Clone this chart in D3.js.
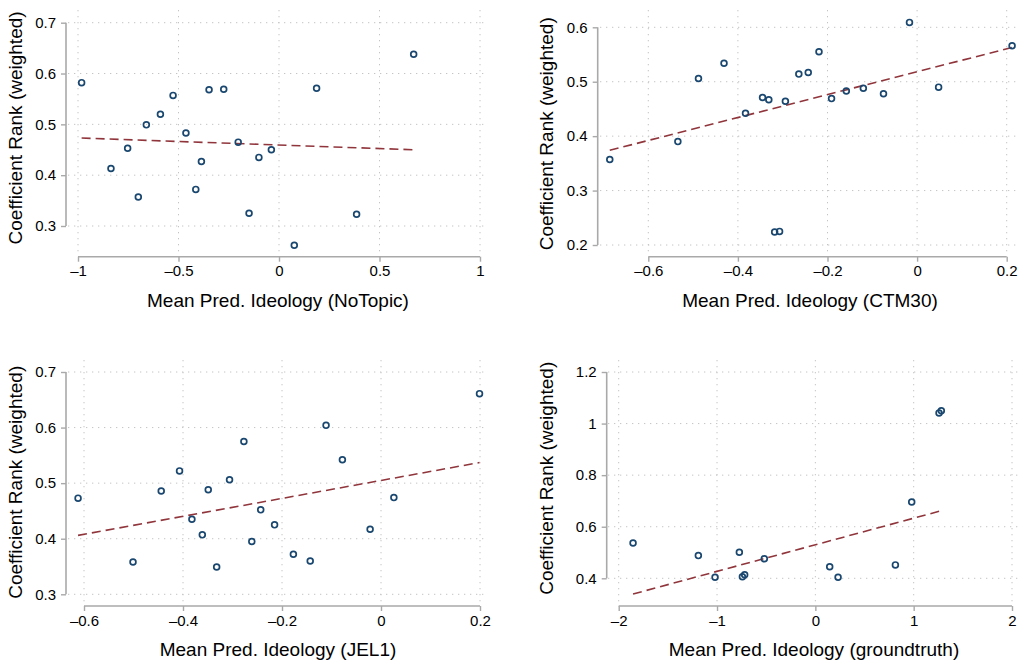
<!DOCTYPE html>
<html lang="en">
<head>
    <meta charset="UTF-8">
    <title>Coefficient Rank vs Mean Pred. Ideology</title>
    <script src="https://cdn.jsdelivr.net/npm/d3@7.8.5/dist/d3.min.js"></script>
    <style>
        body { margin: 0; background: #fff; }
        text { font-family: "Liberation Sans", Arial, Helvetica, sans-serif; fill: #000; }
    </style>
</head>
<body>
<div id="chart"></div>
<script type="text/javascript">
    // x = mean predicted ideology, y = coefficient rank (weighted)
    const noTopicX = [-0.982, -0.836, -0.753, -0.700, -0.660, -0.590, -0.527, -0.463, -0.414, -0.386,
        -0.348, -0.275, -0.203, -0.149, -0.100, -0.038, 0.076, 0.187, 0.386, 0.670];
    const noTopicY = [0.582, 0.413, 0.453, 0.357, 0.499, 0.520, 0.557, 0.483, 0.372, 0.427,
        0.568, 0.569, 0.465, 0.325, 0.435, 0.450, 0.262, 0.571, 0.323, 0.638];
    const noTopicFit = [[-0.982, 0.473], [0.670, 0.450]];

    const ctmX = [-0.686, -0.534, -0.488, -0.431, -0.383, -0.345, -0.331, -0.318, -0.307, -0.294,
        -0.264, -0.243, -0.219, -0.191, -0.158, -0.120, -0.075, -0.017, 0.048, 0.212];
    const ctmY = [0.357, 0.390, 0.506, 0.534, 0.442, 0.471, 0.467, 0.224, 0.225, 0.464,
        0.514, 0.517, 0.555, 0.469, 0.483, 0.488, 0.478, 0.609, 0.490, 0.566];
    const ctmFit = [[-0.686, 0.374], [0.212, 0.563]];

    const jelX = [-0.612, -0.501, -0.444, -0.407, -0.382, -0.361, -0.349, -0.332, -0.306, -0.277,
        -0.261, -0.243, -0.215, -0.177, -0.143, -0.111, -0.078, -0.022, 0.026, 0.199];
    const jelY = [0.473, 0.358, 0.486, 0.522, 0.435, 0.407, 0.488, 0.349, 0.506, 0.575,
        0.395, 0.452, 0.425, 0.372, 0.360, 0.604, 0.542, 0.417, 0.474, 0.661];
    const jelFit = [[-0.612, 0.406], [0.199, 0.537]];

    const gtX = [-1.854, -1.190, -1.020, -0.773, -0.742, -0.719, -0.519, 0.146, 0.231, 0.814, 0.980, 1.258, 1.281];
    const gtY = [0.537, 0.488, 0.404, 0.501, 0.406, 0.414, 0.476, 0.445, 0.404, 0.452, 0.696, 1.041, 1.050];
    const gtFit = [[-1.854, 0.339], [1.281, 0.662]];

    const xTicks1 = [-1, -0.5, 0, 0.5, 1];
    const yTicks1 = [0.3, 0.4, 0.5, 0.6, 0.7];
    const xTicks2 = [-0.6, -0.4, -0.2, 0, 0.2];
    const yTicks2 = [0.2, 0.3, 0.4, 0.5, 0.6];
    const xTicks3 = [-0.6, -0.4, -0.2, 0, 0.2];
    const yTicks3 = [0.3, 0.4, 0.5, 0.6, 0.7];
    const xTicks4 = [-2, -1, 0, 1, 2];
    const yTicks4 = [0.4, 0.6, 0.8, 1, 1.2];

    const yTitle = "Coefficient Rank (weighted)";
    const xTitles = ["Mean Pred. Ideology (NoTopic)", "Mean Pred. Ideology (CTM30)",
        "Mean Pred. Ideology (JEL1)", "Mean Pred. Ideology (groundtruth)"];

    // panel layout (pixel positions)
    const panels = [
        {xs: noTopicX, ys: noTopicY, fit: noTopicFit, xt: xTicks1, yt: yTicks1, title: xTitles[0],
            xr: [78, 480], yr: [226, 22.7], yAxisX: 66, xAxisY: 256.7, grid: [68, 488, 10, 253], ytx: 17},
        {xs: ctmX, ys: ctmY, fit: ctmFit, xt: xTicks2, yt: yTicks2, title: xTitles[1],
            xr: [648.3, 1006.7], yr: [245, 27.3], yAxisX: 597.7, xAxisY: 256.7, grid: [600, 1020, 10, 253], ytx: 548},
        {xs: jelX, ys: jelY, fit: jelFit, xt: xTicks3, yt: yTicks3, title: xTitles[2],
            xr: [84, 480], yr: [594.3, 372], yAxisX: 66, xAxisY: 606, grid: [68, 488, 360, 603], ytx: 17},
        {xs: gtX, ys: gtY, fit: gtFit, xt: xTicks4, yt: yTicks4, title: xTitles[3],
            xr: [618.7, 1012], yr: [578.3, 372], yAxisX: 606.7, xAxisY: 606, grid: [608, 1020, 360, 603], ytx: 548}
    ];

    const width = 1027, height = 662;
    const svg = d3.select("#chart").append("svg")
        .attr("width", width)
        .attr("height", height);

    const fmt = v => String(v).replace("-", "\u2013");

    panels.forEach(function (p) {
        const x = d3.scaleLinear().domain([p.xt[0], p.xt[p.xt.length - 1]]).range(p.xr);
        const y = d3.scaleLinear().domain([p.yt[0], p.yt[p.yt.length - 1]]).range(p.yr);
        const g = svg.append("g");

        // dotted grid
        g.append("g").selectAll("line.h").data(p.yt).join("line")
            .attr("x1", p.grid[0]).attr("x2", p.grid[1])
            .attr("y1", d => y(d)).attr("y2", d => y(d))
            .attr("stroke", "#c4c4c4").attr("stroke-width", 1)
            .attr("stroke-dasharray", "1.3,4.7");
        g.append("g").selectAll("line.v").data(p.xt).join("line")
            .attr("x1", d => x(d)).attr("x2", d => x(d))
            .attr("y1", p.grid[2]).attr("y2", p.grid[3])
            .attr("stroke", "#c4c4c4").attr("stroke-width", 1)
            .attr("stroke-dasharray", "1.3,4.7");

        // y axis
        const ya = g.append("g").attr("transform", `translate(${p.yAxisX},0)`)
            .call(d3.axisLeft(y).tickValues(p.yt).tickFormat(fmt).tickSize(5).tickPadding(5));
        // x axis
        const xa = g.append("g").attr("transform", `translate(0,${p.xAxisY})`)
            .call(d3.axisBottom(x).tickValues(p.xt).tickFormat(fmt).tickSize(5).tickPadding(4));
        [ya, xa].forEach(function (a) {
            a.select(".domain").attr("stroke", "#a9a9a9").attr("stroke-width", 1.6);
            a.selectAll(".tick line").attr("stroke", "#a9a9a9").attr("stroke-width", 1.4);
            a.selectAll(".tick text").style("font-family", "'Liberation Sans', Arial, sans-serif")
                .style("font-size", "15px").attr("fill", "#000");
        });
        ya.select(".domain").attr("d", `M-0,${p.yr[0]}V${p.yr[1]}`);
        xa.select(".domain").attr("d", `M${p.xr[0]},0H${p.xr[1]}`);

        // fitted line
        g.append("path")
            .attr("d", d3.line().x(d => x(d[0])).y(d => y(d[1]))(p.fit))
            .attr("fill", "none")
            .attr("stroke", "#90353b")
            .attr("stroke-width", 1.6)
            .attr("stroke-dasharray", "9,5");

        // hollow markers
        g.append("g").selectAll("circle").data(d3.range(p.xs.length)).join("circle")
            .attr("cx", i => x(p.xs[i]))
            .attr("cy", i => y(p.ys[i]))
            .attr("r", 2.9)
            .attr("fill", "none")
            .attr("stroke", "#1a476f")
            .attr("stroke-width", 1.7);

        // titles
        g.append("text")
            .attr("x", (p.grid[0] + p.grid[1]) / 2)
            .attr("y", p.xAxisY + 50)
            .attr("text-anchor", "middle")
            .style("font-size", "19px")
            .text(p.title);
        const yc = (p.yr[0] + p.yr[1]) / 2 + (p.grid[2] + p.grid[3] - p.yr[0] - p.yr[1]) / 4;
        g.append("text")
            .attr("transform", `translate(${p.ytx + 5},${yc}) rotate(-90)`)
            .attr("text-anchor", "middle")
            .style("font-size", "19px")
            .text(yTitle);
    });
</script>
</body>
</html>
